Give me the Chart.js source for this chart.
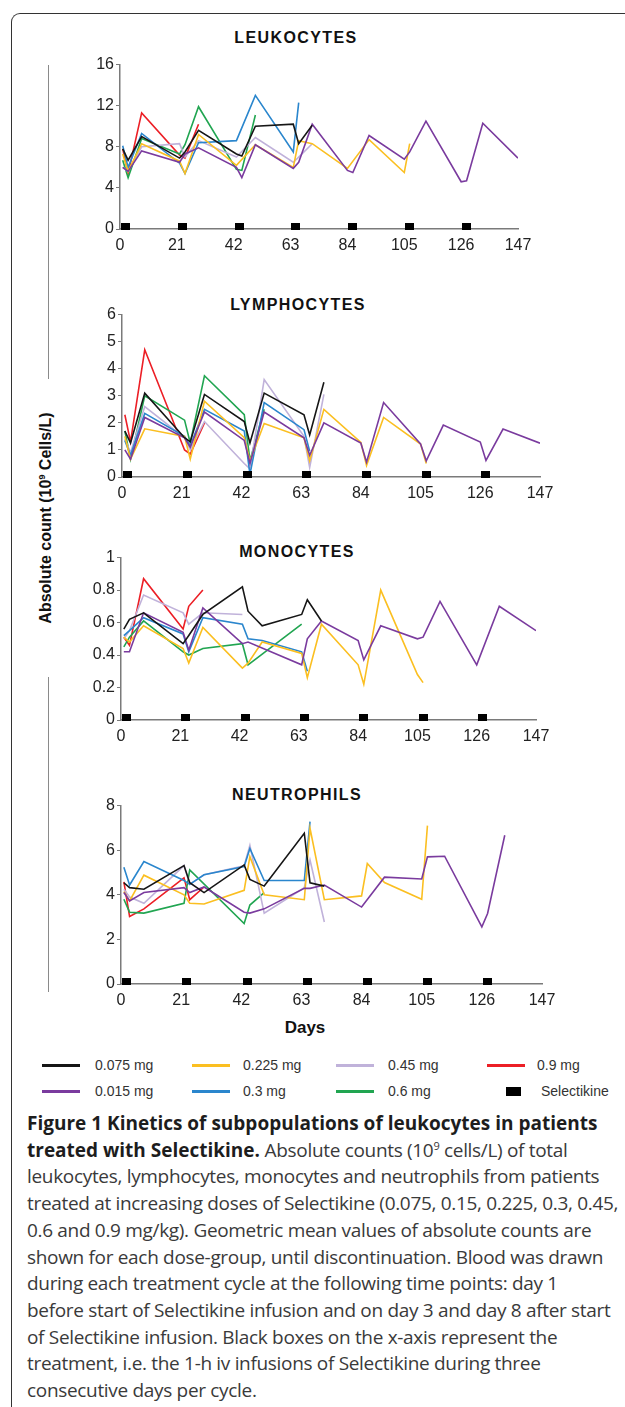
<!DOCTYPE html>
<html>
<head>
<meta charset="utf-8">
<title>Figure 1 Kinetics of subpopulations of leukocytes</title>
<script src="https://cdn.jsdelivr.net/npm/chart.js@4.4.0/dist/chart.umd.min.js"></script>
<style>
  body { margin: 0; background: #fff; }
  #page { position: relative; width: 625px; height: 1407px; overflow: hidden; font-family: 'Liberation Sans', Arial, sans-serif; color: #222; }
  #frame { position: absolute; left: 11px; top: 13px; width: 800px; height: 1600px; border-left: 1.5px solid #333; border-top: 1.5px solid #333; border-top-left-radius: 9px; }
  .bracket { position: absolute; left: 48px; width: 0; border-left: 1.5px solid #8a8a8a; }
  .panel-title { position: absolute; font-weight: bold; font-size: 16px; letter-spacing: 1.4px; transform: translate(-50%, -50%); white-space: nowrap; color: #111; }
  .chart-box { position: absolute; }
  #y-title { position: absolute; left: 46px; top: 518px; transform: translate(-50%, -50%) rotate(-90deg); font-weight: bold; font-size: 16px; white-space: nowrap; color: #111; }
  #x-title { position: absolute; left: 305px; top: 1028px; transform: translate(-50%, -50%); font-weight: bold; font-size: 17px; color: #111; }
  .legend-line { position: absolute; height: 3px; width: 38px; }
  .legend-box { position: absolute; width: 15px; height: 9px; background: #000; }
  .legend-text { position: absolute; font-size: 14px; color: #333; transform: translateY(-50%); white-space: nowrap; }
  #caption { position: absolute; left: 27px; top: 1110px; font-family: 'Open Sans', 'Noto Sans', sans-serif; font-size: 19px; line-height: 26.7px; color: #3a3a3a; white-space: nowrap; letter-spacing: -0.32px; }
  #caption b { color: #1d1d1d; letter-spacing: 0; }
  #caption sup { font-size: 11px; line-height: 0; }
</style>
</head>
<body>
<div id="page">
  <div id="frame"></div>
  <div class="bracket" style="top:65px;height:314px;"></div>
  <div class="bracket" style="top:677px;height:315px;"></div>
  <div id="y-title">Absolute count (10<sup style="font-size:9px">9</sup> Cells/L)</div>
  <div id="x-title">Days</div>
  <div id="legend"></div>
  <div id="caption">
    <b>Figure 1 Kinetics of subpopulations of leukocytes in patients</b><br>
    <b>treated with Selectikine.</b> Absolute counts (10<sup>9</sup> cells/L) of total<br>
    leukocytes, lymphocytes, monocytes and neutrophils from patients<br>
    treated at increasing doses of Selectikine (0.075, 0.15, 0.225, 0.3, 0.45,<br>
    0.6 and 0.9 mg/kg). Geometric mean values of absolute counts are<br>
    shown for each dose-group, until discontinuation. Blood was drawn<br>
    during each treatment cycle at the following time points: day 1<br>
    before start of Selectikine infusion and on day 3 and day 8 after start<br>
    of Selectikine infusion. Black boxes on the x-axis represent the<br>
    treatment, i.e. the 1-h iv infusions of Selectikine during three<br>
    consecutive days per cycle.
  </div>
</div>

<script>
'use strict';

// global variables

// sampling days (day 1, 3 and 8 of each 21 day cycle)
let days = [1, 3, 8, 22, 24, 29, 43, 45, 50, 64, 66, 71, 84, 86, 92, 105, 107, 113, 126, 128, 134, 147];
// Selectikine infusion boxes
let infusionDays = [2, 23, 44, 65, 86, 107, 128];
let dayTicks = [0, 21, 42, 63, 84, 105, 126, 147];

let doseLabels = ['0.075 mg', '0.015 mg', '0.225 mg', '0.3 mg', '0.45 mg', '0.6 mg', '0.9 mg'];
let doseColors = ['#161616', '#7a3b9e', '#fbbf21', '#2a86cd', '#c0b2da', '#21a551', '#ec1f26'];

// leukocytes
let leuk075 = [7.8, 6.7, 9.0, 6.9, 7.5, 9.6, 7.3, 7.1, 10.0, 10.2, 8.3, 10.1];
let leuk015 = [6.0, 5.6, 7.6, 6.5, 7.3, 7.9, 6.0, 5.0, 8.2, 5.9, 6.5, 10.2, 5.7, 5.5, 9.1, 6.8, 7.5, 10.5, 4.6, 4.7, 10.3, 6.9];
let leuk225 = [7.3, 5.6, 8.3, 6.6, 5.4, 9.2, 6.2, null, 8.2, 6.0, 8.6, 8.3, 5.9, null, 8.7, 5.5, 8.3];
let leuk030 = [8.1, 6.0, 9.3, 6.4, 5.4, 8.4, 8.6, null, 13.0, 7.5, 12.3];
let leuk045 = [6.0, 5.6, 8.0, 8.3, 7.0, 8.6, 7.0, null, 8.9, 6.5, 7.0, 8.3];
let leuk060 = [6.7, 5.0, 8.8, 7.3, 8.2, 11.9, 5.8, 5.7, 11.1];
let leuk090 = [7.8, 5.4, 11.3, 7.2, 6.9, 10.2];

// lymphocytes
let lymph075 = [1.7, 1.26, 3.1, 1.45, 1.3, 3.05, 2.05, 1.26, 3.1, 2.3, 1.55, 3.5];
let lymph015 = [1.0, 0.66, 2.2, 1.45, 1.1, 2.4, 1.35, 0.5, 2.4, 1.45, 0.8, 2.0, 1.25, 0.55, 2.75, 1.22, 0.6, 1.92, 1.29, 0.61, 1.77, 1.25];
let lymph225 = [1.5, 0.66, 1.78, 1.5, 0.66, 2.8, 1.45, 0.6, 1.98, 1.45, 0.6, 2.5, 1.28, 0.43, 2.2, 1.22, 0.5];
let lymph030 = [1.35, 0.8, 2.35, 1.5, 1.15, 2.5, 1.7, 0.1, 2.75, 1.75, 0.95];
let lymph045 = [1.4, 0.9, 2.6, 1.45, 1.0, 2.05, 0.5, 0.3, 3.6, 1.5, 0.35, 3.05];
let lymph060 = [1.7, 0.66, 3.0, 2.1, 1.26, 3.74, 2.3, 0.6, 2.5];
let lymph090 = [2.3, 1.3, 4.7, 1.0, 0.85, 2.0];

// monocytes
let mono075 = [0.56, 0.62, 0.66, 0.47, 0.52, 0.65, 0.82, 0.67, 0.58, 0.65, 0.74, 0.61];
let mono015 = [0.42, 0.42, 0.66, 0.54, 0.43, 0.69, 0.47, 0.48, null, 0.34, 0.50, 0.61, 0.49, 0.37, 0.58, 0.50, 0.51, 0.73, 0.34, null, 0.70, 0.55];
let mono225 = [0.51, 0.48, 0.58, 0.44, 0.35, 0.57, 0.32, 0.35, 0.48, 0.41, 0.26, 0.59, 0.34, 0.22, 0.80, 0.28, 0.23];
let mono030 = [0.52, 0.55, 0.63, 0.53, 0.42, 0.63, 0.59, 0.50, 0.49, 0.42, 0.30];
let mono045 = [0.50, 0.55, 0.77, 0.66, 0.59, 0.66, 0.65];
let mono060 = [0.45, 0.51, 0.61, 0.42, 0.40, 0.44, 0.47, 0.34, null, 0.59];
let mono090 = [0.51, 0.46, 0.87, 0.56, 0.70, 0.80];

// neutrophils
let neut075 = [4.54, 4.32, 4.25, 5.31, 4.54, 4.1, 5.34, 4.69, 4.39, 6.76, 4.54, 4.39];
let neut015 = [4.1, 3.73, 4.1, 4.32, 4.1, 4.35, 3.22, 3.18, 3.37, 4.29, 4.29, 4.44, 3.45, null, 4.79, 4.71, 5.7, 5.73, 2.56, 3.16, 6.67];
let neut225 = [4.14, 3.73, 4.88, 4.0, 3.62, 3.59, 4.2, 5.71, 4.0, 3.78, 6.98, 3.78, 3.95, 5.4, 4.55, 3.8, 7.1];
let neut030 = [5.23, 4.44, 5.49, 4.64, 4.47, 4.9, 5.27, 6.08, 4.64, 4.64, 7.28];
let neut045 = [4.25, 3.9, 3.62, 5.31, 4.47, 4.9, 5.3, 6.22, 3.18, 4.32, 5.56, 2.78];
let neut060 = [3.8, 3.22, 3.18, 3.62, 5.12, null, 2.71, 3.54, 4.1];
let neut090 = [4.58, 3.03, 3.37, 4.76, 3.78, 4.35];

// panel layout (plot area in page pixels)
let panels = [
  { title: 'LEUKOCYTES', titleX: 296, titleY: 38, series: [leuk075, leuk015, leuk225, leuk030, leuk045, leuk060, leuk090], yMax: 16, yStep: 4, left: 120, right: 518, top: 63, bottom: 229 },
  { title: 'LYMPHOCYTES', titleX: 298, titleY: 305, series: [lymph075, lymph015, lymph225, lymph030, lymph045, lymph060, lymph090], yMax: 6, yStep: 1, left: 122, right: 540, top: 313, bottom: 477 },
  { title: 'MONOCYTES', titleX: 297, titleY: 552, series: [mono075, mono015, mono225, mono030, mono045, mono060, mono090], yMax: 1, yStep: 0.2, left: 121, right: 536, top: 556, bottom: 720 },
  { title: 'NEUTROPHILS', titleX: 297, titleY: 795, series: [neut075, neut015, neut225, neut030, neut045, neut060, neut090], yMax: 8, yStep: 2, left: 121, right: 542, top: 804, bottom: 984 }
];

// Dom References

let page = document.getElementById('page');
let legend = document.getElementById('legend');

Chart.defaults.font.family = "'Liberation Sans', Arial, sans-serif";
Chart.defaults.color = '#222';

// black infusion box, sitting on top of the axis
let boxMark = document.createElement('canvas');
boxMark.width = 9;
boxMark.height = 12;
let boxCtx = boxMark.getContext('2d');
boxCtx.fillStyle = '#000';
boxCtx.fillRect(0, 0, 9, 7);

// Helper Functions

function toPoints(values) {
  let pts = [];
  for (let i = 0; i < values.length; i++) {
    if (values[i] !== null && values[i] !== undefined) {
      pts.push({ x: days[i], y: values[i] });
    }
  }
  return pts;
}

function renderPanel(panel) {
  let padTop = 10;
  let padRight = 25;
  let yAxisWidth = 60;
  let xAxisHeight = 30;

  let title = document.createElement('div');
  title.className = 'panel-title';
  title.textContent = panel.title;
  title.style.left = panel.titleX + 'px';
  title.style.top = panel.titleY + 'px';
  page.appendChild(title);

  let w = panel.right - panel.left + yAxisWidth + padRight;
  let h = panel.bottom - panel.top + padTop + xAxisHeight;
  let box = document.createElement('div');
  box.className = 'chart-box';
  box.style.left = (panel.left - yAxisWidth) + 'px';
  box.style.top = (panel.top - padTop) + 'px';
  let canvas = document.createElement('canvas');
  canvas.width = w;
  canvas.height = h;
  canvas.style.width = w + 'px';
  canvas.style.height = h + 'px';
  box.appendChild(canvas);
  page.appendChild(box);

  let datasets = [];
  for (let i = 0; i < panel.series.length; i++) {
    datasets.push({
      label: doseLabels[i],
      data: toPoints(panel.series[i]),
      borderColor: doseColors[i],
      backgroundColor: doseColors[i],
      borderWidth: 1.6,
      pointRadius: 0,
      tension: 0,
      fill: false
    });
  }
  datasets.unshift({
    label: 'Selectikine',
    data: infusionDays.map(d => ({ x: d, y: 0 })),
    showLine: false,
    pointStyle: boxMark,
    pointRadius: 6,
    clip: false
  });

  new Chart(canvas.getContext('2d'), {
    type: 'line',
    data: { datasets: datasets },
    options: {
      responsive: false,
      animation: false,
      devicePixelRatio: window.devicePixelRatio || 1,
      layout: { padding: { top: padTop, right: padRight, left: 0, bottom: 0 } },
      plugins: { legend: { display: false }, tooltip: { enabled: false } },
      scales: {
        x: {
          type: 'linear',
          min: 0,
          max: 147,
          afterFit: s => { s.height = xAxisHeight; },
          afterBuildTicks: s => { s.ticks = dayTicks.map(v => ({ value: v })); },
          ticks: { font: { size: 16 }, color: '#222', padding: 7, maxRotation: 0, autoSkip: false },
          grid: { display: true, drawOnChartArea: false, drawTicks: false },
          border: { color: '#7a7a7a', width: 1.5 }
        },
        y: {
          min: 0,
          max: panel.yMax,
          afterFit: s => { s.width = yAxisWidth; },
          ticks: {
            stepSize: panel.yStep,
            font: { size: 16 },
            color: '#222',
            padding: 2,
            callback: v => String(Math.round(v * 10) / 10)
          },
          grid: { drawOnChartArea: false, tickLength: 4, color: '#7a7a7a' },
          border: { color: '#7a7a7a', width: 1.5 }
        }
      }
    }
  });
}

function renderLegend() {
  // legend order: two rows of four
  let order = [0, 2, 4, 6, 1, 3, 5, -1];
  let lineX = [42, 192, 336, 487];
  let textX = [95, 243, 388, 537];
  let rowY = [1065, 1091];
  for (let k = 0; k < order.length; k++) {
    let col = k % 4;
    let row = Math.floor(k / 4);
    let idx = order[k];
    let text = document.createElement('div');
    text.className = 'legend-text';
    text.style.top = rowY[row] + 'px';
    if (idx >= 0) {
      let line = document.createElement('div');
      line.className = 'legend-line';
      line.style.left = lineX[col] + 'px';
      line.style.top = (rowY[row] - 1.5) + 'px';
      line.style.background = doseColors[idx];
      legend.appendChild(line);
      text.textContent = doseLabels[idx];
      text.style.left = textX[col] + 'px';
    } else {
      let sq = document.createElement('div');
      sq.className = 'legend-box';
      sq.style.left = '506px';
      sq.style.top = (rowY[row] - 4.5) + 'px';
      legend.appendChild(sq);
      text.textContent = 'Selectikine';
      text.style.left = '541px';
    }
    legend.appendChild(text);
  }
}

// Executable Code

for (let i = 0; i < panels.length; i++) {
  renderPanel(panels[i]);
}
renderLegend();
</script>
</body>
</html>
